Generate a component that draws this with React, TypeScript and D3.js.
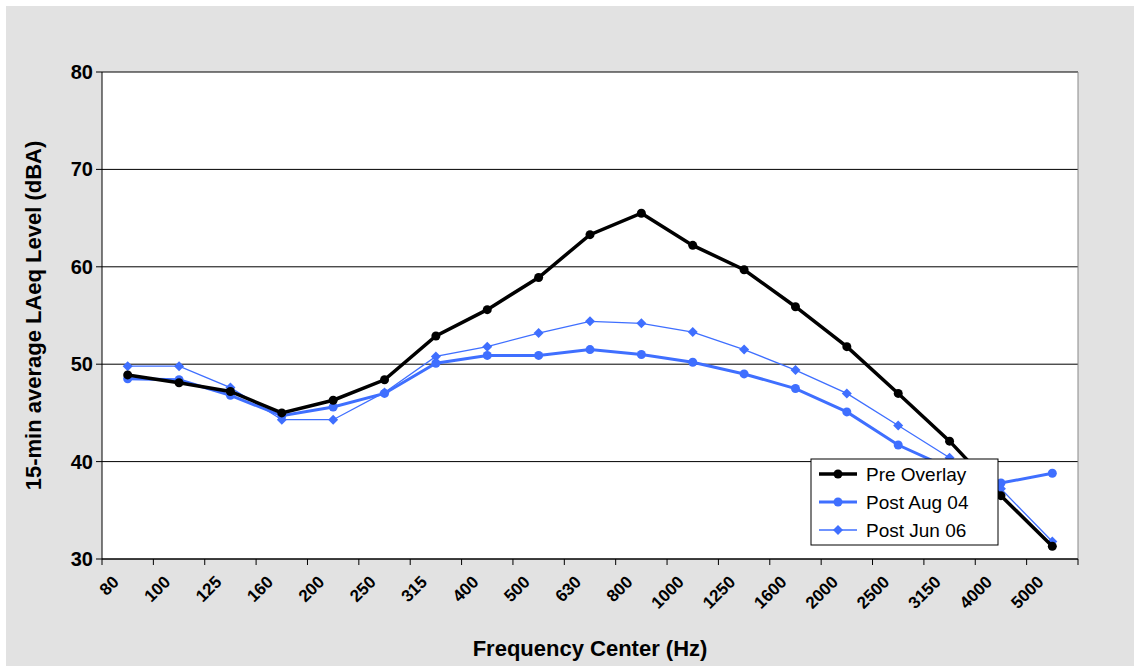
import React, { useEffect, useRef } from 'react';
import * as d3 from 'd3';

const categories = ['80', '100', '125', '160', '200', '250', '315', '400', '500', '630', '800', '1000', '1250', '1600', '2000', '2500', '3150', '4000', '5000'];
const preOverlay = [48.9, 48.1, 47.2, 45.0, 46.3, 48.4, 52.9, 55.6, 58.9, 63.3, 65.5, 62.2, 59.7, 55.9, 51.8, 47.0, 42.1, 36.5, 31.3];
const postAug04 = [48.5, 48.4, 46.8, 44.7, 45.6, 47.0, 50.1, 50.9, 50.9, 51.5, 51.0, 50.2, 49.0, 47.5, 45.1, 41.7, 39.3, 37.8, 38.8];
const postJun06 = [49.8, 49.8, 47.6, 44.3, 44.3, 47.1, 50.8, 51.8, 53.2, 54.4, 54.2, 53.3, 51.5, 49.4, 47.0, 43.7, 40.4, 37.2, 31.8];
const yTicks = [30, 40, 50, 60, 70, 80];

const series = [
    { name: 'Pre Overlay', values: preOverlay, colour: '#000000', width: 3.5, marker: 'circle' },
    { name: 'Post Aug 04', values: postAug04, colour: '#3f6fff', width: 3, marker: 'circle' },
    { name: 'Post Jun 06', values: postJun06, colour: '#3f6fff', width: 1.3, marker: 'diamond' },
];

export default function App() {
    const ref = useRef<SVGSVGElement>(null);

    useEffect(() => {
        const svg = d3.select(ref.current);
        svg.selectAll('*').remove();
        const W = 1134, H = 666;
        const left = 102, right = 1078, top = 72, bottom = 559;
        const font = 'Arial, Liberation Sans, sans-serif';

        svg.append('rect').attr('x', 0).attr('y', 0).attr('width', W).attr('height', H).attr('fill', '#ffffff');
        svg.append('rect').attr('x', 6).attr('y', 6).attr('width', W - 6).attr('height', H - 6).attr('fill', '#e2e2e2');
        svg.append('rect').attr('x', left).attr('y', top).attr('width', right - left).attr('height', bottom - top).attr('fill', '#fff');

        const x = d3.scaleBand<string>().domain(categories).range([left, right]);
        const y = d3.scaleLinear().domain([30, 80]).range([bottom, top]);

        yTicks.forEach(t => {
            svg.append('line').attr('x1', left).attr('x2', right).attr('y1', y(t)).attr('y2', y(t))
                .attr('stroke', '#000').attr('stroke-width', 1);
            svg.append('line').attr('x1', left - 6).attr('x2', left).attr('y1', y(t)).attr('y2', y(t)).attr('stroke', '#000');
            svg.append('text').attr('x', left - 9).attr('y', y(t) + 7).attr('text-anchor', 'end')
                .attr('font-family', font).attr('font-weight', 'bold').attr('font-size', 20).text(t);
        });
        svg.append('line').attr('x1', right).attr('x2', right).attr('y1', top).attr('y2', bottom).attr('stroke', '#888');
        svg.append('line').attr('x1', left).attr('x2', left).attr('y1', top).attr('y2', bottom).attr('stroke', '#000');
        svg.append('line').attr('x1', left).attr('x2', right).attr('y1', bottom).attr('y2', bottom).attr('stroke', '#000');

        // Excel-style: tick labels sit at the band edges
        categories.forEach((c, i) => {
            const tx = left + i * x.bandwidth();
            svg.append('line').attr('x1', tx).attr('x2', tx).attr('y1', bottom).attr('y2', bottom + 6).attr('stroke', '#000');
            svg.append('text').attr('transform', `translate(${tx + 18},${bottom + 24}) rotate(-45)`)
                .attr('text-anchor', 'end').attr('font-family', font).attr('font-weight', 'bold').attr('font-size', 17).text(c);
        });
        svg.append('line').attr('x1', right).attr('x2', right).attr('y1', bottom).attr('y2', bottom + 6).attr('stroke', '#000');

        const cx = (i: number) => (x(categories[i]) as number) + x.bandwidth() / 2;
        const line = d3.line<number>().x((_, i) => cx(i)).y(d => y(d));
        const diamond = 'M0,-5L5,0L0,5L-5,0Z';

        [...series].reverse().forEach(s => {
            svg.append('path').attr('d', line(s.values)).attr('fill', 'none')
                .attr('stroke', s.colour).attr('stroke-width', s.width);
            s.values.forEach((v, i) => {
                if (s.marker === 'circle') {
                    svg.append('circle').attr('cx', cx(i)).attr('cy', y(v)).attr('r', 4.5).attr('fill', s.colour);
                } else {
                    svg.append('path').attr('d', diamond).attr('transform', `translate(${cx(i)},${y(v)})`).attr('fill', s.colour);
                }
            });
        });

        // legend
        const lg = svg.append('g').attr('transform', 'translate(811,459)');
        lg.append('rect').attr('width', 187).attr('height', 86).attr('fill', '#fff').attr('stroke', '#000');
        series.forEach((s, i) => {
            const ly = 15 + i * 28;
            lg.append('line').attr('x1', 8).attr('x2', 46).attr('y1', ly).attr('y2', ly)
                .attr('stroke', s.colour).attr('stroke-width', s.width);
            if (s.marker === 'circle') lg.append('circle').attr('cx', 27).attr('cy', ly).attr('r', 4.5).attr('fill', s.colour);
            else lg.append('path').attr('d', diamond).attr('transform', `translate(27,${ly})`).attr('fill', s.colour);
            lg.append('text').attr('x', 55).attr('y', ly + 7).attr('font-family', font).attr('font-size', 19).text(s.name);
        });

        svg.append('text').attr('x', (left + right) / 2).attr('y', 656).attr('text-anchor', 'middle')
            .attr('font-family', font).attr('font-weight', 'bold').attr('font-size', 22).text('Frequency Center (Hz)');
        svg.append('text').attr('transform', `translate(41,${(top + bottom) / 2}) rotate(-90)`).attr('text-anchor', 'middle')
            .attr('font-family', font).attr('font-weight', 'bold').attr('font-size', 22).text('15-min average LAeq Level (dBA)');
    }, []);

    return <svg ref={ref} width={1134} height={666} style={{ display: 'block', position: 'absolute', left: 0, top: 0 }} />;
}
